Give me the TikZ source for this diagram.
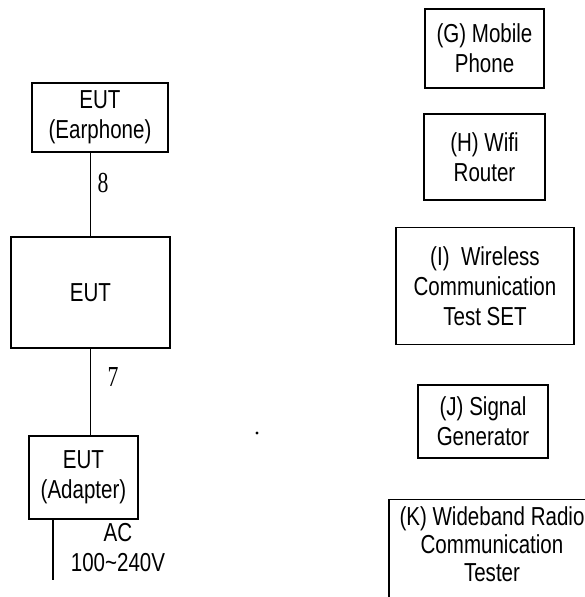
\documentclass[tikz,border=0pt]{standalone}
\usepackage{fontspec}
\setmainfont{Liberation Sans}[FakeStretch=0.79]
\newfontfamily\numfont{Liberation Serif}[FakeStretch=0.75]
\usetikzlibrary{positioning}

\begin{document}
\begin{tikzpicture}[
  x=1pt,y=-1pt,
  % plain black boxes, sized one by one below
  box/.style={draw,line width=1.4pt,align=center,inner sep=0pt,
              font=\fontsize{26}{30}\selectfont},
  wire/.style={line width=1.4pt},
  num/.style={font=\numfont\fontsize{29}{30}\selectfont,inner sep=0pt},
  note/.style={font=\fontsize{26}{30}\selectfont,align=center,inner sep=0pt},
]
\clip (0,0) rectangle (585,597);

% ------------------------------------------------------------ EUT column
\node[box,minimum width=136pt,minimum height=69pt]  (earphone) at (100,117.5) {EUT\\(Earphone)};
\node[box,minimum width=159pt,minimum height=111pt] (eut)      at (90.5,292.5) {EUT};
\node[box,minimum width=109pt,minimum height=83pt]  (adapter)  at (83.5,477.5) {EUT\\(Adapter)};
\coordinate (mains) at (53,580);

% ------------------------------------------------------------ cables
\draw[wire] (eut.north) -- (eut.north |- earphone.south);
\node[num] (c8) at (103,183) {8};
\draw[wire] (eut.south) -- (eut.south |- adapter.north);
\node[num] (c7) at (113,377) {7};
\draw[wire] (adapter.south -| mains) -- (mains);
\node[note] (ac) at (118,548) {AC\\100\textasciitilde240V};

\fill (257,433) circle (1.6pt);

% ------------------------------------------------------------ auxiliary equipment
\node[box,minimum width=119pt,minimum height=79pt]  (mobile)      at (484.5,48.5)  {(G) Mobile\\Phone};
\node[box,minimum width=121pt,minimum height=86pt]  (router)      at (484.5,157)   {(H) Wifi\\Router};
\node[box,minimum width=178pt,minimum height=117pt] (tester)      at (485,286)     {(I)\ \ Wireless\\Communication\\Test SET};
\node[box,minimum width=130pt,minimum height=73pt]  (siggen)      at (483,421.5)   {(J) Signal\\Generator};
% runs off the sheet at the bottom right, as in the original
\node[box,font=\fontsize{26}{28}\selectfont,minimum width=206pt,inner ysep=7pt,text depth=40pt,anchor=north]
      (radiotester) at (492,499) {(K) Wideband Radio\\Communication\\Tester};

\end{tikzpicture}
\end{document}
